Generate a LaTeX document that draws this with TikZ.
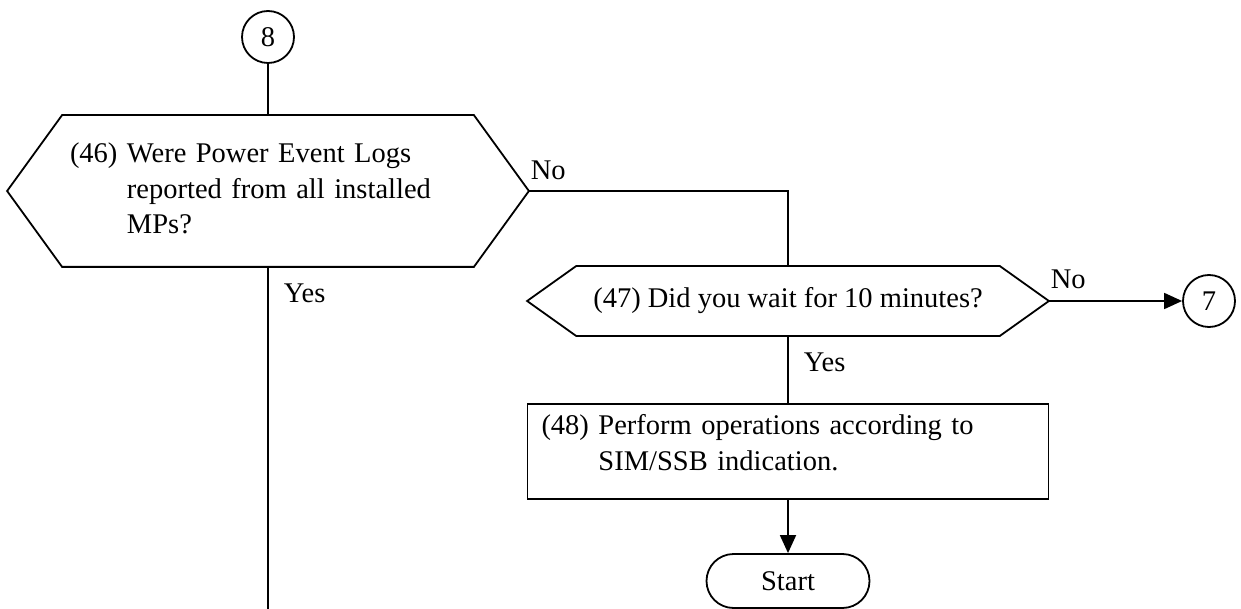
\documentclass[tikz,border=0pt]{standalone}
\usepackage{fontspec}
\setmainfont{Liberation Serif}
\usetikzlibrary{arrows.meta, calc, shapes.misc}

\begin{document}
\begin{tikzpicture}[x=1pt, y=-1pt, line width=1.8pt, >={Triangle[length=18pt,width=16pt]},
  font=\fontsize{28.5}{35.5}\selectfont,
  conn/.style={circle, draw, minimum size=52pt, inner sep=0pt},
  lbl/.style={inner sep=0pt, anchor=base west}]
  \useasboundingbox (0,0) rectangle (1241,609);

  \node[conn] (C8) at (268,37) {8};

  % decision 46
  \node[minimum width=410pt, minimum height=150pt, inner sep=0pt, inner xsep=7pt,
        text width=396pt, align=left] (Q46) at (268,191)
    {\begin{tabular}{@{}l@{ }l@{}}(46) & Were Power Event Logs\\ & reported from all installed\\ & MPs?\end{tabular}};
  \coordinate (Q46L) at ($(Q46.west)+(-55,0)$);
  \coordinate (Q46R) at ($(Q46.east)+(55,0)$);
  \draw (Q46.north west) -- (Q46.north east) -- (Q46R) -- (Q46.south east)
    -- (Q46.south west) -- (Q46L) -- cycle;

  % decision 47
  \node[minimum width=422pt, minimum height=68pt, inner sep=0pt] (Q47) at (788,301)
    {(47) Did you wait for 10 minutes?};
  \coordinate (Q47L) at ($(Q47.west)+(-49,0)$);
  \coordinate (Q47R) at ($(Q47.east)+(49,0)$);
  \draw (Q47.north west) -- (Q47.north east) -- (Q47R) -- (Q47.south east)
    -- (Q47.south west) -- (Q47L) -- cycle;

  \node[conn] (C7) at (1209,301) {7};

  \node[draw, minimum width=521pt, minimum height=95pt, inner sep=0pt, inner xsep=14pt,
        text width=493pt, align=left] (A48) at (788,451.5)
    {\raisebox{6pt}[\height][\depth]{\begin{tabular}{@{}l@{ }l@{}}(48) & Perform operations according to\\ & SIM/SSB indication.\end{tabular}}};

  \node[draw, rounded rectangle, minimum width=163pt, minimum height=54pt, inner sep=0pt] (S) at (788,581) {Start};

  \coordinate (Cont) at (268,609);

  \node[lbl] (N46) at ($(Q46R)+(1,-11)$) {No};
  \node[lbl] (Y46) at ($(Q46.south)+(15,36)$) {Yes};
  \node[lbl] (N47) at ($(Q47R)+(1,-12)$) {No};
  \node[lbl] (Y47) at ($(Q47.south)+(15,36)$) {Yes};

  \draw (C8) -- (Q46);
  \draw (Q46) -- (Cont);
  \draw (Q46R) -| (Q47.north);
  \draw[->] (Q47R) -- (C7);
  \draw (Q47) -- (A48);
  \draw[->] (A48) -- (S);
\end{tikzpicture}
\end{document}
